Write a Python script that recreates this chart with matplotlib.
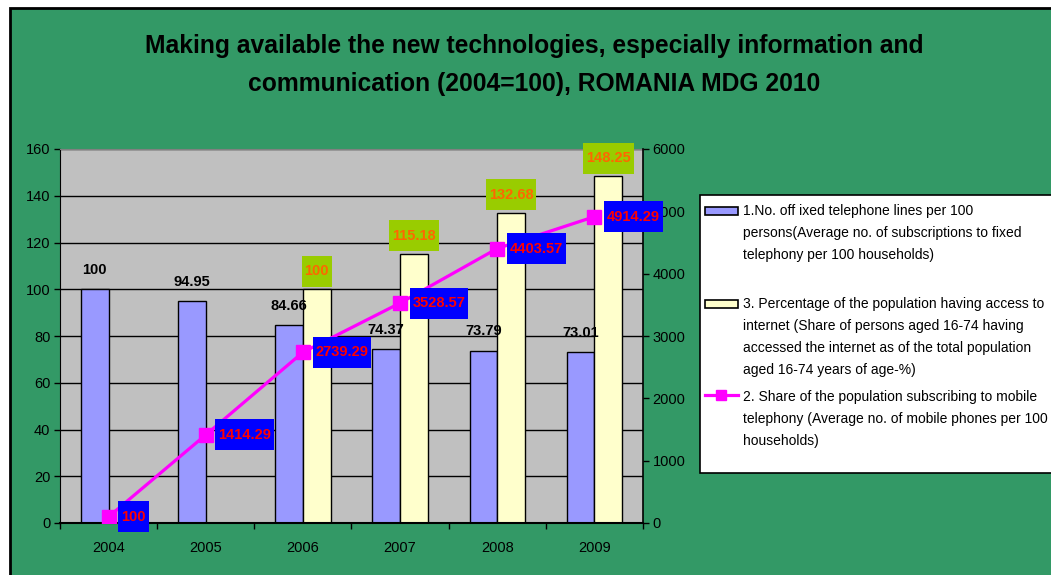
import numpy as np
import matplotlib
matplotlib.use("Agg")
import matplotlib.pyplot as plt
from matplotlib.patches import Rectangle
from matplotlib.lines import Line2D
from matplotlib.path import Path

FONT = ["Liberation Sans", "DejaVu Sans"]
plt.rcParams.update({"font.family": FONT, "font.size": 10})

years = ["2004", "2005", "2006", "2007", "2008", "2009"]
fixed_lines = [100, 94.95, 84.66, 74.37, 73.79, 73.01]
internet = [np.nan, np.nan, 100, 115.18, 132.68, 148.25]
mobile = [100, 1414.29, 2739.29, 3528.57, 4403.57, 4914.29]
legend_labels = [
    "1.No. off ixed telephone lines per 100\npersons(Average no. of subscriptions to fixed\ntelephony per 100 households)",
    "3. Percentage of the population having access to\ninternet (Share of persons aged 16-74 having\naccessed the internet as of the total population\naged 16-74 years of age-%)",
    "2. Share of the population subscribing to mobile\ntelephony (Average no. of mobile phones per 100\nhouseholds)",
]

GREEN = "#339966"
W, H = 1051, 575

def padbox(padx, pady):
    # square box with separate horizontal / vertical padding
    def f(x0, y0, w, h, m):
        px, py = padx * m, pady * m
        return Path([(x0 - px, y0 - py), (x0 + w + px, y0 - py), (x0 + w + px, y0 + h + py),
                     (x0 - px, y0 + h + py), (x0 - px, y0 - py)], closed=True)
    return f

fig = plt.figure(figsize=(W / 100, H / 100), dpi=100)
fig.patch.set_facecolor("white")
fig.add_artist(Rectangle((10 / W, -0.1), 1.2, 0.1 + (H - 8) / H, transform=fig.transFigure,
                         facecolor=GREEN, edgecolor="black", lw=2, zorder=-1))

ax = fig.add_axes([60 / W, 52 / H, 583 / W, 374 / H])
ax.set_facecolor("#C0C0C0")
x = np.arange(len(years))
bw = 0.285
ax.bar(x - bw, fixed_lines, bw, align="edge", color="#9999FF", edgecolor="black", lw=1, zorder=2)
ax.bar(x, internet, bw, align="edge", color="#FFFFCC", edgecolor="black", lw=1, zorder=2)
ax.set_xlim(-0.5, len(years) - 0.5)
ax.set_ylim(0, 160)
ax.set_yticks(range(0, 161, 20))
ax.yaxis.grid(True, color="black", lw=1)
ax.set_axisbelow(True)
ax.set_xticks(x)
ax.set_xticklabels(years, fontsize=10.5)
ax.set_xticks(np.arange(-0.5, len(years), 1), minor=True)
ax.tick_params(axis="x", which="major", length=0, pad=13)
ax.tick_params(axis="x", which="minor", length=4, width=1, direction="out")
ax.tick_params(axis="y", length=4, width=1, labelsize=10.5, pad=3)
ax.spines["top"].set_color("#808080")
ax.spines["right"].set_visible(False)
ax.spines["bottom"].set_linewidth(1.5)

for xi, v in zip(x, fixed_lines):
    ax.annotate(f"{v:g}", (xi - bw / 2, v), xytext=(0, 14), textcoords="offset points",
                ha="center", va="center", fontsize=10.5, fontweight="bold", color="black", zorder=4)
for xi, v in zip(x, internet):
    if np.isnan(v):
        continue
    ax.annotate(f"{v:g}", (xi + bw / 2, v), xytext=(0, 13), textcoords="offset points",
                ha="center", va="center", fontsize=10.5, fontweight="bold", color="#FF6600", zorder=4,
                bbox=dict(boxstyle=padbox(0.2, 0.58), facecolor="#99CC00", edgecolor="none"))

ax2 = ax.twinx()
ax2.set_ylim(0, 6000)
ax2.set_yticks(range(0, 6001, 1000))
ax2.tick_params(axis="y", length=4, width=1, labelsize=10.5, pad=3)
ax2.patch.set_visible(False)
for s in ["top", "left", "bottom"]:
    ax2.spines[s].set_visible(False)
ax2.spines["right"].set_linewidth(1.2)
ax2.plot(x, mobile, color="#FF00FF", lw=2.3, marker="s", ms=10, zorder=3)
for xi, v in zip(x, mobile):
    ax2.annotate(f"{v:g}", (xi, v), xytext=(9, 0), textcoords="offset points",
                 ha="left", va="center", fontsize=10.5, fontweight="bold", color="#FF0000", zorder=5,
                 bbox=dict(boxstyle=padbox(0.2, 0.58), facecolor="#0000FF", edgecolor="none"))

fig.text(534 / W, 1 - 65 / H,
         "Making available the new technologies, especially information and\ncommunication (2004=100), ROMANIA MDG 2010",
         ha="center", va="center", fontsize=17.7, fontweight="bold", linespacing=1.78)

# legend box drawn by hand (Excel style, entries evenly spaced)
fig.add_artist(Rectangle((700 / W, 1 - 473 / H), 0.5, 278 / H, transform=fig.transFigure,
                         facecolor="white", edgecolor="black", lw=1.2))
tops = [212, 305, 398]
fig.add_artist(Rectangle((705 / W, 1 - 214.5 / H), 33 / W, 8 / H, transform=fig.transFigure,
                         facecolor="#9999FF", edgecolor="black", lw=1.2))
fig.add_artist(Rectangle((705 / W, 1 - 308 / H), 33 / W, 8 / H, transform=fig.transFigure,
                         facecolor="#FFFFCC", edgecolor="black", lw=1.2))
fig.add_artist(Line2D([705 / W, 738 / W], [1 - 395 / H] * 2, transform=fig.transFigure,
                      color="#FF00FF", lw=2.3))
fig.add_artist(Line2D([721 / W], [1 - 395 / H], transform=fig.transFigure,
                      color="#FF00FF", marker="s", ms=7))
for t, lab in zip(tops, legend_labels):
    fig.text(743 / W, 1 - (t - 8) / H, lab, ha="left", va="top", fontsize=10, linespacing=1.72)

fig.savefig("out.png", dpi=100, facecolor=fig.get_facecolor())
